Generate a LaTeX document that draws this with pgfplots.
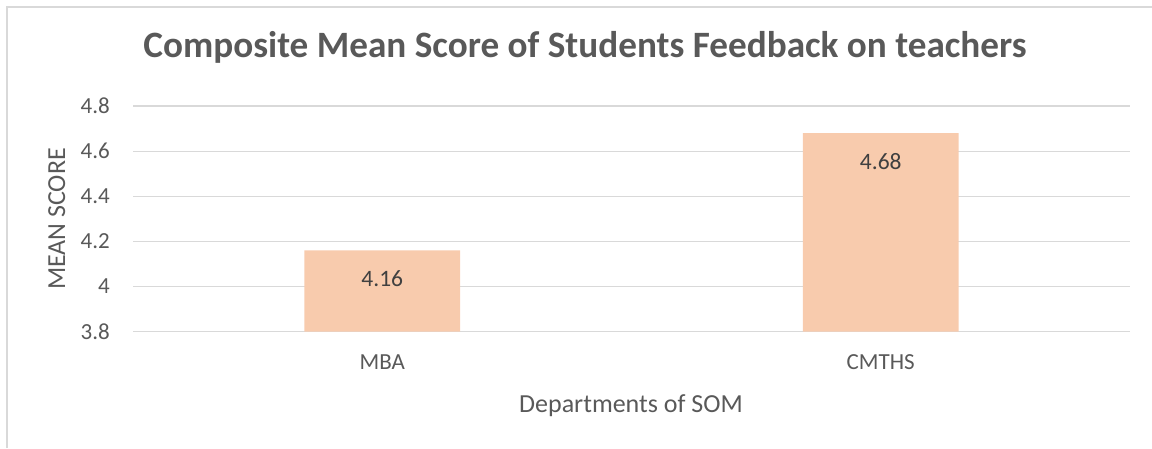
\documentclass[border=0pt]{standalone}
\usepackage{pgfplots}
\pgfplotsset{compat=1.18}
\usepackage{fontspec}
\setmainfont{Carlito}
\definecolor{gridc}{HTML}{D9D9D9}
\definecolor{txt}{HTML}{595959}
\definecolor{lbl}{HTML}{404040}
\definecolor{barc}{HTML}{F8CBAD}
\begin{document}
\begin{tikzpicture}[x=1pt,y=1pt]
\useasboundingbox (0,0) rectangle (1152,448);
\draw[gridc, line width=1.2pt] (7,0) -- (7,441) -- (1152,441);
\begin{axis}[
  scale only axis,
  width=997pt, height=225.7pt,
  at={(133pt,116.3pt)}, anchor=south west,
  xmin=-0.5, xmax=1.5,
  ymin=3.8, ymax=4.8,
  xtick={0,1}, xticklabels={MBA,CMTHS},
  ytick={3.8,4.0,4.2,4.4,4.6,4.8},
  yticklabels={3.8,4,4.2,4.4,4.6,4.8},
  axis line style={draw=none},
  major tick length=0pt,
  ymajorgrids,
  grid style={gridc, line width=1.2pt},
  tick label style={font=\fontsize{23}{27}\selectfont, text=txt, inner sep=0pt},
  yticklabel style={xshift=-23pt},
  xticklabel style={anchor=north, yshift=-23pt},
  /pgf/number format/assume math mode=true,
  ybar, bar width=0.312,
  nodes near coords,
  every node near coord/.append style={anchor=center, yshift=-28pt, font=\fontsize{23.5}{28}\selectfont, text=lbl},
  point meta=explicit symbolic,
]
\addplot[fill=barc, draw=none] coordinates {(0,4.16) [4.16] (1,4.68) [4.68]};
\end{axis}
\node[anchor=base, text=txt, font=\bfseries\fontsize{37.2}{43}\selectfont, inner sep=0pt] at (585,390) {Composite Mean Score of Students Feedback on teachers};
\node[anchor=base, text=txt, font=\fontsize{26}{30}\selectfont, inner sep=0pt] at (631,36) {Departments of SOM};
\node[anchor=base, rotate=90, text=txt, font=\fontsize{26}{30}\selectfont, inner sep=0pt] at (65,229) {MEAN SCORE};
\end{tikzpicture}
\end{document}
